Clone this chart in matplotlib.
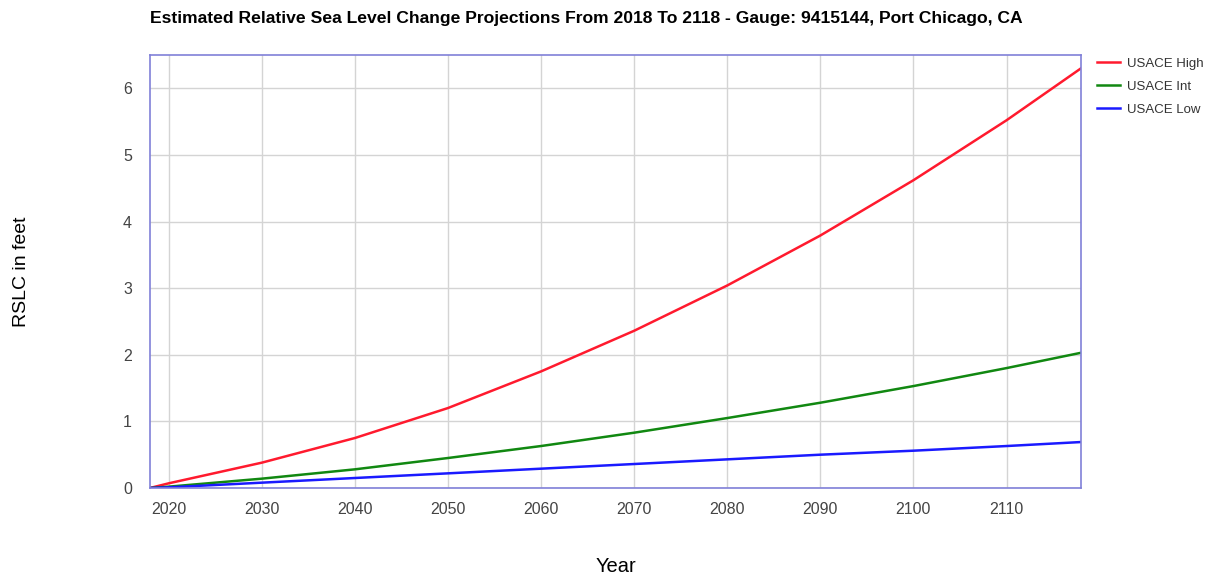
"""Estimated relative sea level change projections, Port Chicago, CA."""

import matplotlib

matplotlib.use("Agg")
import matplotlib.pyplot as plt

plt.rcParams["font.family"] = ["Liberation Sans", "DejaVu Sans"]

years = [2018, 2020, 2030, 2040, 2050, 2060, 2070, 2080, 2090, 2100, 2110, 2118]
usace_high_ft = [0.0, 0.07, 0.38, 0.75, 1.20, 1.75, 2.36, 3.04, 3.79, 4.62, 5.52, 6.30]
usace_int_ft = [0.0, 0.02, 0.14, 0.28, 0.45, 0.63, 0.83, 1.05, 1.28, 1.53, 1.80, 2.03]
usace_low_ft = [0.0, 0.01, 0.08, 0.15, 0.22, 0.29, 0.36, 0.43, 0.50, 0.56, 0.63, 0.69]

x_ticks = list(range(2020, 2111, 10))
y_ticks = list(range(0, 7))

fig = plt.figure(figsize=(12.14, 5.79), dpi=100)
ax = fig.add_axes([150 / 1214, 1 - 488 / 579, 931 / 1214, 433 / 579])

ax.plot(years, usace_high_ft, color="#ff1a2e", linewidth=1.8, label="USACE High")
ax.plot(years, usace_int_ft, color="#118811", linewidth=1.8, label="USACE Int")
ax.plot(years, usace_low_ft, color="#1a1aff", linewidth=1.8, label="USACE Low")

ax.set_xlim(2018, 2118)
ax.set_ylim(0, 6.5)
ax.set_xticks(x_ticks)
ax.set_yticks(y_ticks)
ax.tick_params(length=0, labelcolor="#444444", labelsize=11.5)
ax.tick_params(axis="x", pad=10)
ax.tick_params(axis="y", pad=13)
ax.grid(True, color="#d4d4d4", linewidth=1)
ax.set_axisbelow(True)
for spine in ax.spines.values():
    spine.set_color("#8080d8")
    spine.set_linewidth(1.2)

ax.set_xlabel("Year", fontsize=14.5, va="center")
ax.set_ylabel("RSLC in feet", fontsize=14, va="center")
ax.xaxis.set_label_coords(0.5, -0.182)
ax.yaxis.set_label_coords(-0.138, 0.5)
fig.text(
    150 / 1214,
    1 - 18 / 579,
    "Estimated Relative Sea Level Change Projections From 2018 To 2118 - Gauge: 9415144, Port Chicago, CA",
    fontsize=12.6,
    fontweight="bold",
    va="center",
    ha="left",
)

ax.legend(
    loc="upper left",
    bbox_to_anchor=(1.0045, 1.022),
    frameon=False,
    fontsize=9.5,
    handlelength=1.75,
    handletextpad=0.55,
    labelspacing=0.82,
    labelcolor="#333333",
)

fig.savefig("out.png", dpi=100)
